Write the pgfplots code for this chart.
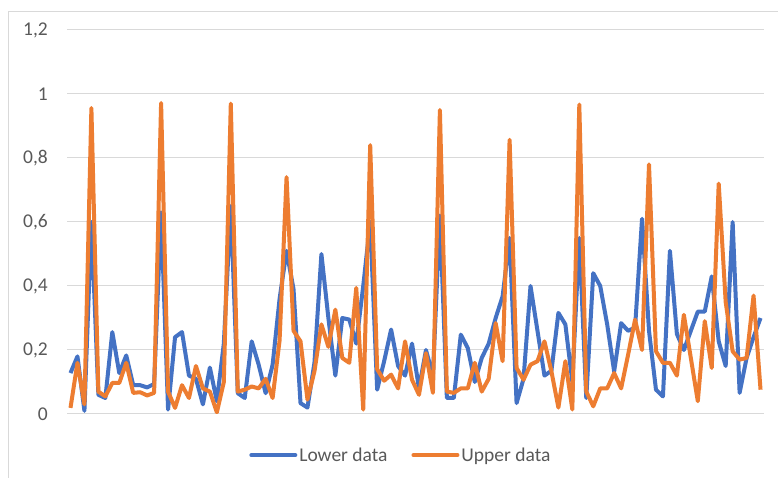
\documentclass[border=0pt]{standalone}
\usepackage{pgfplots}
\pgfplotsset{compat=1.18}
\usepackage{pgfplotstable}
\usepackage{fontspec}
\setmainfont{Carlito}
\definecolor{exblue}{HTML}{4472C4}
\definecolor{exorange}{HTML}{ED7D31}
\definecolor{exgrid}{HTML}{D9D9D9}
\definecolor{extext}{HTML}{595959}

\pgfplotstableread{
i lower upper
0 0.128 0.019
1 0.18 0.16
2 0.01 0.03
3 0.6 0.956
4 0.06 0.07
5 0.05 0.055
6 0.256 0.097
7 0.128 0.097
8 0.183 0.16
9 0.09 0.066
10 0.09 0.068
11 0.083 0.058
12 0.094 0.066
13 0.63 0.972
14 0.014 0.07
15 0.24 0.019
16 0.256 0.09
17 0.12 0.05
18 0.11 0.15
19 0.03 0.08
20 0.145 0.07
21 0.04 0.005
22 0.22 0.1
23 0.65 0.97
24 0.065 0.07
25 0.05 0.076
26 0.227 0.086
27 0.154 0.08
28 0.065 0.11
29 0.154 0.05
30 0.36 0.23
31 0.51 0.74
32 0.39 0.26
33 0.034 0.227
34 0.02 0.045
35 0.16 0.133
36 0.5 0.28
37 0.3 0.21
38 0.12 0.326
39 0.3 0.175
40 0.295 0.16
41 0.22 0.394
42 0.4 0.014
43 0.6 0.84
44 0.076 0.14
45 0.165 0.104
46 0.264 0.123
47 0.15 0.08
48 0.12 0.227
49 0.22 0.107
50 0.08 0.06
51 0.2 0.19
52 0.12 0.066
53 0.62 0.95
54 0.05 0.07
55 0.05 0.066
56 0.248 0.08
57 0.206 0.08
58 0.1 0.16
59 0.175 0.07
60 0.22 0.11
61 0.3 0.284
62 0.368 0.165
63 0.55 0.857
64 0.034 0.144
65 0.11 0.107
66 0.4 0.154
67 0.26 0.165
68 0.12 0.227
69 0.135 0.133
70 0.316 0.02
71 0.28 0.165
72 0.1 0.014
73 0.55 0.967
74 0.05 0.07
75 0.44 0.024
76 0.4 0.08
77 0.28 0.08
78 0.133 0.128
79 0.284 0.08
80 0.26 0.185
81 0.27 0.295
82 0.61 0.2
83 0.26 0.78
84 0.076 0.196
85 0.055 0.16
86 0.51 0.16
87 0.25 0.12
88 0.2 0.31
89 0.26 0.175
90 0.32 0.04
91 0.32 0.29
92 0.43 0.144
93 0.227 0.72
94 0.15 0.35
95 0.6 0.196
96 0.066 0.17
97 0.175 0.175
98 0.24 0.37
99 0.3 0.076
}\datatable

\begin{document}
\begin{tikzpicture}
\useasboundingbox (0pt,0pt) rectangle (778pt,478pt);
\fill[white] (0pt,0pt) rectangle (778pt,478pt);
\draw[exgrid, line width=1pt] (8pt,0pt) -- (8pt,466pt) -- (778pt,466pt);
\begin{axis}[
  at={(67pt,64pt)}, anchor=south west,
  scale only axis, width=697pt, height=384pt,
  xmin=-0.5, xmax=99.5, ymin=0, ymax=1.2,
  xtick=\empty,
  ytick={0,0.2,0.4,0.6,0.8,1,1.2},
  yticklabels={{0},{0,2},{0,4},{0,6},{0,8},{1},{1,2}},
  ymajorgrids,
  grid style={exgrid, line width=1pt},
  axis line style={draw=none},
  major tick style={draw=none},
  tick label style={font=\fontsize{19.5}{22}\selectfont, text=extext},
  yticklabel style={anchor=east, inner sep=0pt, xshift=-19pt},
  /pgf/number format/assume math mode=true,
  legend columns=2,
  legend style={at={(0.479,-0.107)}, anchor=center, draw=none, fill=none,
    font=\fontsize{19.5}{22}\selectfont, text=extext,
    /tikz/every even column/.append style={column sep=22pt},
    nodes={inner sep=2pt}},
  legend image code/.code={\draw[#1, line width=4pt, line cap=round] (0pt,0pt) -- (44pt,0pt);},
  every axis plot/.append style={line width=4pt, line join=round, no marks},
]
\addplot[exblue] table[x=i, y=lower] {\datatable};
\addlegendentry{Lower data}
\addplot[exorange] table[x=i, y=upper] {\datatable};
\addlegendentry{Upper data}
\end{axis}
\end{tikzpicture}
\end{document}
